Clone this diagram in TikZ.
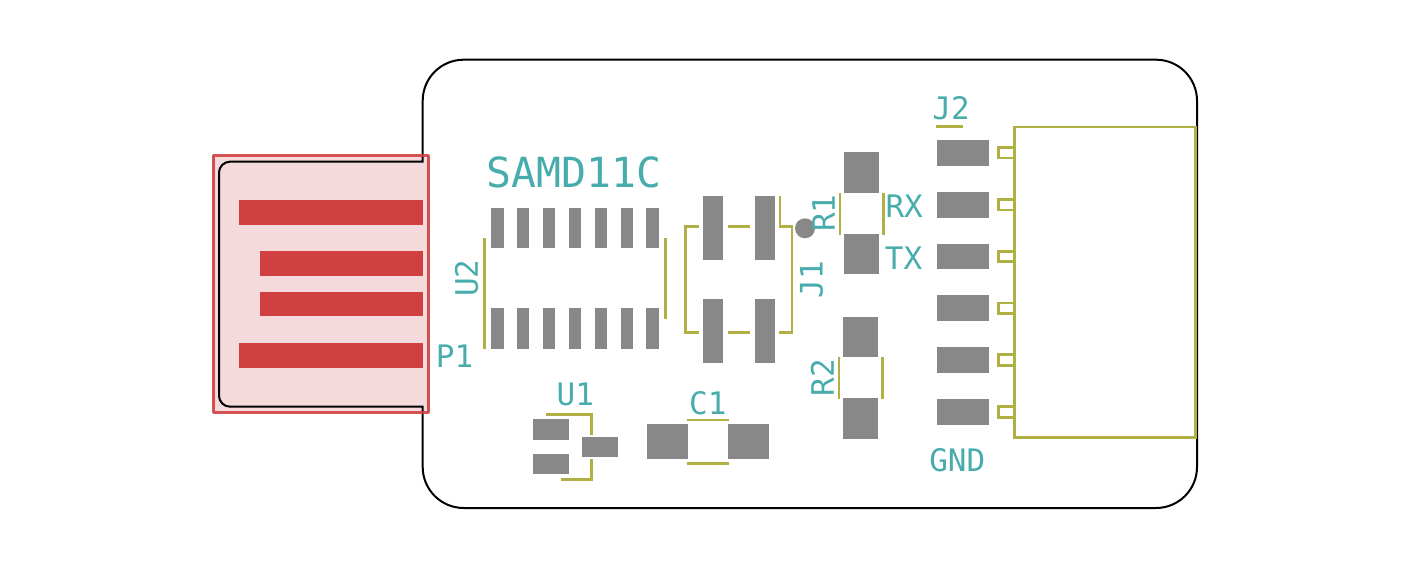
\documentclass[tikz,border=0pt]{standalone}
\usepackage{fontspec}
\setmonofont{DejaVu Sans Mono}
\definecolor{silk}{HTML}{B0B044}
\definecolor{copper}{HTML}{888888}
\definecolor{usbred}{HTML}{D04040}
\definecolor{usbfill}{HTML}{F5DADB}
\definecolor{reftext}{HTML}{48ACAC}
\tikzset{
  silkline/.style={draw=silk,line width=2.8pt},
  edgeline/.style={draw=black,line width=2pt,line cap=rect},
  reflabel/.style={text=reftext,inner sep=0pt,anchor=center,font=\ttfamily\fontsize{31}{31}\selectfont},
  titlelabel/.style={reflabel,font=\ttfamily\fontsize{41.5}{41.5}\selectfont}
}
\begin{document}
\begin{tikzpicture}[x=1pt,y=-1pt]
\newcommand{\pad}[4]{\fill[copper] (#1,#2) rectangle (#3,#4);
}
\newcommand{\finger}[3]{\fill[usbred] (#1,#2) rectangle (422.7,#3);
}
\useasboundingbox (0,0) rectangle (1417,567);
% usb plug and board edge
\fill[usbfill] (213.3,155.7) rectangle (428.7,412);
\draw[edgeline] (422.7,161.7) [rounded corners=41pt] -- (422.7,59.7) -- (1197,59.7) -- (1197,508) -- (422.7,508) [sharp corners] -- (422.7,406.7)
  [rounded corners=11pt] -- (219,406.7) -- (219,161.7) -- (422.7,161.7);
\finger{239}{200.3}{224.7}
\finger{259.7}{251.3}{275.7}
\finger{259.7}{292}{316.3}
\finger{239}{343}{367.7}
\draw[usbred,line width=3pt,opacity=.9,line join=round] (213.3,155.7) rectangle (428.7,412);
\fill[copper] (805,228.3) circle (10);
% U2
\foreach \x in {0,1,...,6} {
	\pad{491+25.9*\x}{207.7}{503.5+25.9*\x}{248.3}
	\pad{491+25.9*\x}{308.3}{503.5+25.9*\x}{349}
}
\draw[silkline] (484.3,238) -- (484.3,349.3);
\draw[silkline] (665.3,238) -- (665.3,318.7);
% J1
\pad{703}{196}{723.3}{259.7}
\pad{754.7}{196}{775}{259.7}
\pad{703}{298.7}{723.3}{362.7}
\pad{754.7}{298.7}{775}{362.7}
\draw[silkline] (698.7,226.3) -- (685.7,226.3) -- (685.7,332.3) -- (698.7,332.3);
\draw[silkline] (727.7,226.3) -- (750.3,226.3);
\draw[silkline] (727.7,332.3) -- (750.3,332.3);
\draw[silkline] (780,196) -- (780,226.3) -- (792,226.3) -- (792,332.3) -- (779.3,332.3);
% U1
\pad{532.7}{419.3}{569.3}{439.7}
\pad{532.7}{454}{569.3}{474.3}
\pad{581.7}{436.7}{618.3}{457}
\draw[silkline] (546.3,414.7) -- (591.3,414.7) -- (591.3,434.7);
\draw[silkline] (591.3,459.3) -- (591.3,479.3) -- (560.7,479.3);
% C1
\pad{646.7}{424.3}{687.7}{459.3}
\pad{728.3}{424.3}{769}{459.3}
\draw[silkline] (686.7,420) -- (729.3,420);
\draw[silkline] (686.7,463.3) -- (729.3,463.3);
% R1, R2
\pad{844.3}{152.3}{879.3}{193}
\pad{844.3}{234}{879.3}{274.3}
\pad{843.3}{316.7}{878.3}{357}
\pad{843.3}{398}{878.3}{438.7}
\draw[silkline] (840,192.7) -- (840,234.7);
\draw[silkline] (883.7,192.7) -- (883.7,234.7);
\draw[silkline] (839,356.7) -- (839,398.7);
\draw[silkline] (882.3,356.7) -- (882.3,398.7);
% J2
\draw[silkline] (936,126.7) -- (963.3,126.7);
\draw[silkline] (1014.7,127) rectangle (1195.7,437.3);
\foreach \k in {0,1,...,5} {
	\pad{936.7}{140+51.8*\k}{988.7}{165.7+51.8*\k}
	\draw[silkline] (1014.7,147.5+51.8*\k) -- (998.3,147.5+51.8*\k) -- (998.3,158.1+51.8*\k) -- (1014.7,158.1+51.8*\k);
}
% labels
\node[titlelabel] (samd) at (574,172.3) {SAMD11C};
\node[reflabel] (p1) at (454.5,356.3) {P1};
\node[reflabel,rotate=90] (u2) at (466.5,278) {U2};
\node[reflabel] (u1) at (575.3,394.8) {U1};
\node[reflabel] (c1) at (707.8,403.3) {C1};
\node[reflabel,rotate=90] (j1) at (811.5,279.8) {J1};
\node[reflabel,rotate=90] (r1) at (823.5,213) {R1};
\node[reflabel,rotate=90] (r2) at (822.3,377.5) {R2};
\node[reflabel] (rx) at (904.2,205.8) {RX};
\node[reflabel] (tx) at (903.5,258.3) {TX};
\node[reflabel] (j2) at (951,108.3) {J2};
\node[reflabel] (gnd) at (957.3,460.5) {GND};
\end{tikzpicture}
\end{document}
